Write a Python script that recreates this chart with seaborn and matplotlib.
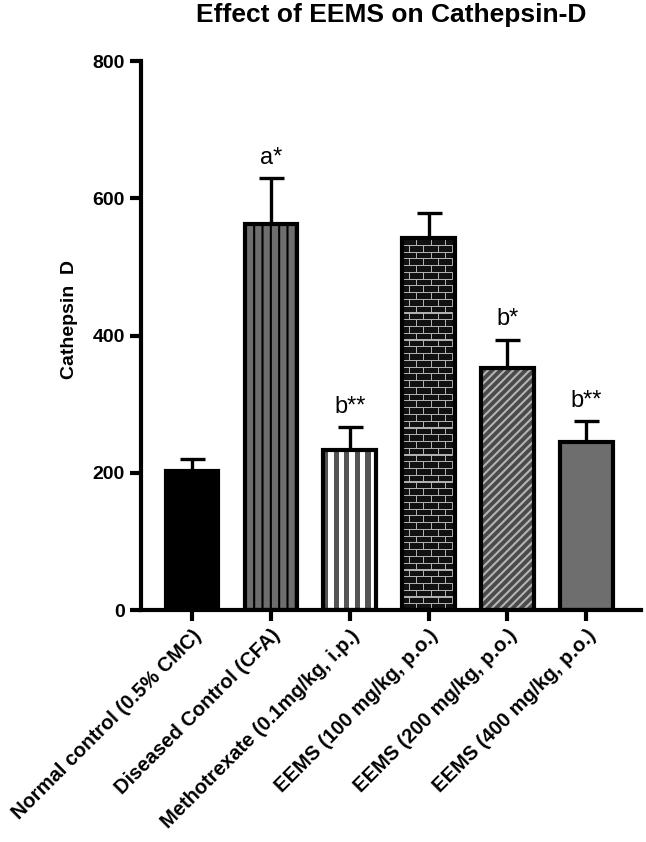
import matplotlib
matplotlib.use('Agg')
import matplotlib.pyplot as plt
import numpy as np
import seaborn as sns
from matplotlib.patches import Rectangle
from matplotlib.colors import ListedColormap

groups = ['Normal control (0.5% CMC)', 'Diseased Control (CFA)', 'Methotrexate (0.1mg/kg, i.p.)',
          'EEMS (100 mg/kg, p.o.)', 'EEMS (200 mg/kg, p.o.)', 'EEMS (400 mg/kg, p.o.)']
means = [203, 563, 233, 542, 352, 245]
errs = [17, 66, 33, 36, 42, 30]
marks = ['', 'a*', 'b**', '', 'b*', 'b**']

faces = ['#000000', '#6e6e6e', '#ffffff', '#111111', '#4a4a4a', '#6e6e6e']
hatch_cols = ['#000000', '#000000', '#555555', '#d8d8d8', '#b4b4b4', '#6e6e6e']
hatches = ['', '||', '', '', '////', '']

sns.set_style('ticks')
plt.rcParams['font.family'] = ['Liberation Sans', 'DejaVu Sans']
plt.rcParams['hatch.linewidth'] = 1.5
for k in ['text.color', 'axes.labelcolor', 'xtick.color', 'ytick.color', 'axes.edgecolor']:
    plt.rcParams[k] = 'black'

fig = plt.figure(figsize=(6.46, 8.42), dpi=100)
ax = fig.add_axes([0.218, 0.2755, 0.775, 0.652])

sns.barplot(x=groups, y=means, hue=groups, palette=faces, legend=False,
            width=0.67, saturation=1, ax=ax, zorder=2)


def texture(kind):
    # small repeating fill textures for the stripe and brick bars
    if kind == 'stripes':
        return np.tile([0, 1], 5)[None, :], ListedColormap(['#555555', '#ffffff'])
    rows = []
    for r in range(55):
        for k in range(6):
            line = np.zeros(52)
            if k == 0:
                line[:] = 1
            else:
                off = 0 if r % 2 == 0 else 7
                line[(np.arange(52) + off) % 14 == 0] = 1
            rows.append(line)
    return np.array(rows), ListedColormap(['#111111', '#b0b0b0'])


for i, p in enumerate(ax.patches):
    p.set_edgecolor(hatch_cols[i])
    p.set_linewidth(0)
    p.set_hatch(hatches[i])
    x0, w, h = p.get_x(), p.get_width(), p.get_height()
    if i in (2, 3):
        arr, cm = texture('stripes' if i == 2 else 'bricks')
        im = ax.imshow(arr, cmap=cm, extent=(x0, x0 + w, 0, h), aspect='auto',
                       interpolation='nearest', zorder=2.5)
        im.set_clip_path(p)
    ax.add_patch(Rectangle((x0, 0), w, h, fill=False, edgecolor='black', linewidth=3, zorder=3))

x = np.arange(len(groups))
ax.errorbar(x, means, yerr=[np.zeros(len(errs)), errs], fmt='none', ecolor='black',
            elinewidth=2.4, capsize=9, capthick=2.4, zorder=1)

for i in range(len(groups)):
    if marks[i]:
        ax.text(x[i], means[i] + errs[i] + 14, marks[i], ha='center', va='bottom', fontsize=17)

ax.set_ylim(0, 800)
ax.set_xlim(-0.65, 5.7)
ax.set_yticks([0, 200, 400, 600, 800])
ax.set_ylabel('Cathepsin  D', fontsize=14, fontweight='bold')
ax.yaxis.set_label_coords(-0.125, 0.53)
ax.set_title('Effect of EEMS on Cathepsin-D', fontsize=19, fontweight='bold', pad=28)
ax.tick_params(axis='both', width=3, length=8, labelsize=14)
for lab in ax.get_yticklabels():
    lab.set_fontweight('bold')
ax.set_xticks(x)
ax.set_xticklabels(groups, rotation=45, ha='right', rotation_mode='anchor',
                   fontweight='bold', fontsize=14.5)
for s in ['left', 'bottom']:
    ax.spines[s].set_linewidth(3)
sns.despine(ax=ax)

fig.savefig('out.png', dpi=100)
